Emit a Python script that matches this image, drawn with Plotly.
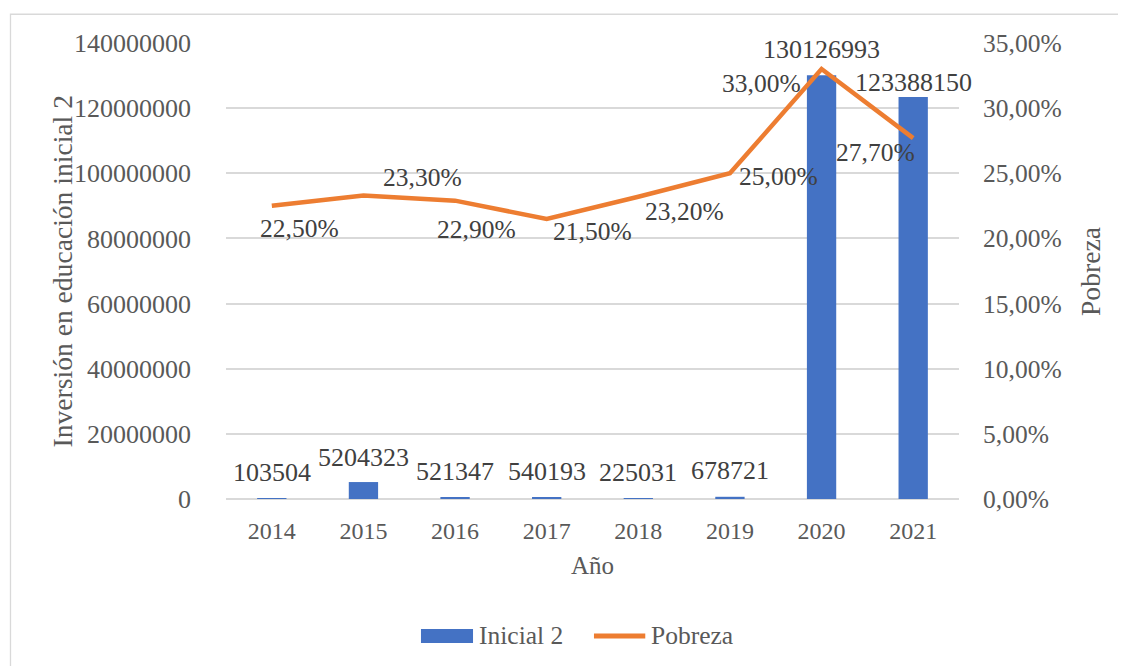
import plotly.graph_objects as go

years = ["2014", "2015", "2016", "2017", "2018", "2019", "2020", "2021"]
inicial2 = [103504, 5204323, 521347, 540193, 225031, 678721, 130126993, 123388150]
pobreza = [0.225, 0.233, 0.229, 0.215, 0.232, 0.250, 0.330, 0.277]

font = "Liberation Serif"
grey = "#595959"
dark = "#404040"
grid = "#D9D9D9"
blue = "#4472C4"
orange = "#ED7D31"

fig = go.Figure()
fig.add_trace(go.Bar(x=years, y=inicial2, name="Inicial 2",
                     marker=dict(color=blue, line=dict(width=0)),
                     width=0.32, showlegend=False))
fig.add_trace(go.Scatter(x=years, y=pobreza, name="Pobreza", yaxis="y2",
                         mode="lines", line=dict(color=orange, width=4.5),
                         showlegend=False))

# data labels (offsets in px, tuned by eye); x given as category index
bar_shift = [26, 25, 26, 26, 26, 26, 26, 15]
for i, (v, s) in enumerate(zip(inicial2, bar_shift)):
    fig.add_annotation(x=i, y=v, yref="y", text=str(v), showarrow=False,
                       yshift=s, font=dict(size=26, color=dark, family=font))

line_off = [(28, -23), (59, 18), (21, -29), (46, -13), (46, -15), (49, -3), (-60, -14), (-38, -14)]
for i, (v, (dx, dy)) in enumerate(zip(pobreza, line_off)):
    fig.add_annotation(x=i, y=v, yref="y2", text=f"{v*100:.2f}%".replace(".", ","),
                       showarrow=False, xshift=dx, yshift=dy,
                       font=dict(size=25.5, color=dark, family=font))

# axis titles
titles = [
    (-0.2237, 0.499, -90, "Inversión en educación inicial 2", 27.6),
    (1.1787, 0.5, -90, "Pobreza", 27.6),
    (0.5, -0.145, 0, "Año", 25),
]
for x, y, ang, txt, sz in titles:
    fig.add_annotation(x=x, y=y, xref="paper", yref="paper", textangle=ang,
                       xanchor="center", yanchor="middle", text=txt, showarrow=False,
                       font=dict(size=sz, color=grey, family=font))

# legend drawn by hand so the keys match the wide Excel swatches
fig.add_shape(type="rect", xref="paper", yref="paper", x0=0.266, x1=0.337,
              y0=-0.3158, y1=-0.2851, fillcolor=blue, line=dict(width=0))
fig.add_shape(type="line", xref="paper", yref="paper", x0=0.502, x1=0.572,
              y0=-0.3004, y1=-0.3004, line=dict(color=orange, width=5))
for x, txt in [(0.343, "Inicial 2"), (0.577, "Pobreza")]:
    fig.add_annotation(x=x, y=-0.3004, xref="paper", yref="paper", xanchor="left",
                       yanchor="middle", text=txt, showarrow=False,
                       font=dict(size=25.5, color=grey, family=font))

# chart border
fig.add_shape(type="rect", xref="paper", yref="paper",
              x0=-0.294, x1=1.25, y0=-0.4, y1=1.063,
              line=dict(color=grid, width=1.3), layer="below")

fig.update_layout(
    width=1126, height=666,
    margin=dict(l=218, r=175, t=35, b=175),
    paper_bgcolor="white", plot_bgcolor="white",
    separators=",.",
    font=dict(family=font, size=25, color=grey),
    xaxis=dict(type="category", range=[-0.5, 7.5], showgrid=False, ticks="",
               tickfont=dict(size=24), ticklabelstandoff=15, showline=False,
               zeroline=False),
    yaxis=dict(range=[0, 140000000], dtick=20000000, tickformat="d",
               tickfont=dict(size=26),
               gridcolor=grid, gridwidth=1.5, zeroline=True, zerolinecolor=grid,
               zerolinewidth=1.5, ticks="", ticklabelstandoff=34),
    yaxis2=dict(range=[0, 0.35], dtick=0.05, tickformat=".2%", overlaying="y",
                tickfont=dict(size=25.5),
                side="right", showgrid=False, zeroline=False, ticks="",
                ticklabelstandoff=23),
)

fig.write_html("out.html")
